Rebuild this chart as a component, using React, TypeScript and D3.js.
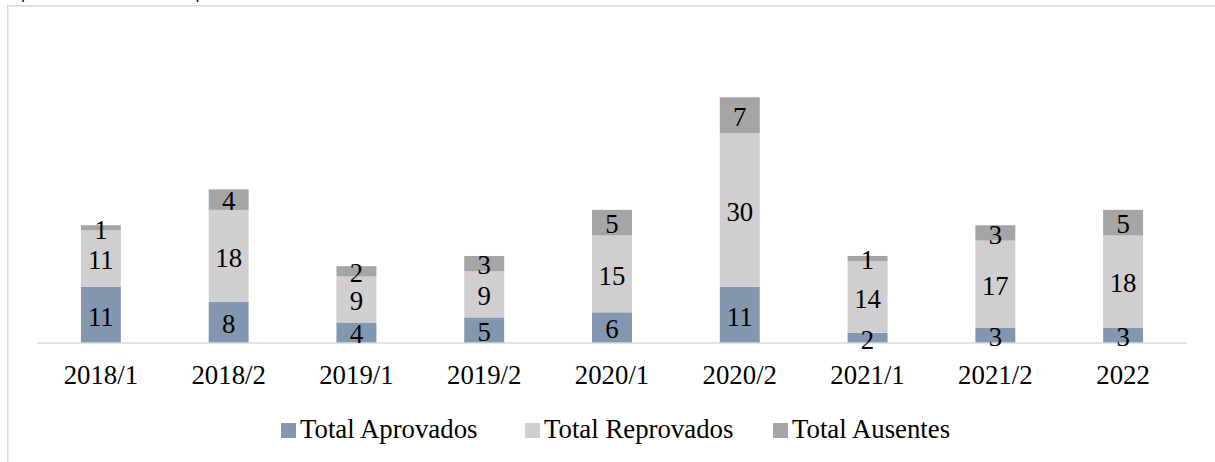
import * as d3 from "d3";

// Data
const categories = [
  "2018/1",
  "2018/2",
  "2019/1",
  "2019/2",
  "2020/1",
  "2020/2",
  "2021/1",
  "2021/2",
  "2022",
];
const aprovados = [11, 8, 4, 5, 6, 11, 2, 3, 3];
const reprovados = [11, 18, 9, 9, 15, 30, 14, 17, 18];
const ausentes = [1, 4, 2, 3, 5, 7, 1, 3, 5];

const seriesNames = ["Total Aprovados", "Total Reprovados", "Total Ausentes"];
const seriesKeys = ["aprovados", "reprovados", "ausentes"];
const colors = ["#8497B0", "#D0CECE", "#A5A5A5"];

const W = 1215;
const H = 462;
const FS = 26.8;
const serifStyle = {
  fontFamily: '"Times New Roman", "Liberation Serif", Tinos, serif',
};

export default function App() {
  const rows = categories.map((c, i) => ({
    cat: c,
    aprovados: aprovados[i],
    reprovados: reprovados[i],
    ausentes: ausentes[i],
  }));

  const stack = d3.stack<(typeof rows)[0]>().keys(seriesKeys);
  const layers = stack(rows as any);

  const x = d3
    .scaleBand<string>()
    .domain(categories)
    .range([37, 1187])
    .paddingInner(0.6875)
    .paddingOuter(0.34375);

  const y = d3.scaleLinear().domain([0, 50]).range([343, 87]);

  // legend layout
  const legendX = [281, 525, 773];

  return (
    <svg
      width={W}
      height={H}
      style={{ position: "absolute", left: 0, top: 0, background: "#fff" }}
    >
      {/* caption above the chart, cut off by the crop as in the source */}
      <text
        x={0}
        y={-1}
        style={{ fontFamily: '"Liberation Sans", Arial, sans-serif' }}
        fontSize={16}
        fill="#000"
      >
        os período de 2018 a 2022 por semestre
      </text>

      {/* chart frame */}
      <rect
        x={7.75}
        y={5.75}
        width={W + 20}
        height={H + 20}
        fill="none"
        stroke="#D9D9D9"
        strokeWidth={1.5}
      />

      {/* stacked bars */}
      {layers.map((layer, li) => (
        <g key={layer.key} fill={colors[li]}>
          {layer.map((d, i) => (
            <rect
              key={i}
              x={x(categories[i])}
              y={y(d[1])}
              width={x.bandwidth()}
              height={y(d[0]) - y(d[1])}
            />
          ))}
        </g>
      ))}

      {/* axis line */}
      <line
        x1={x.range()[0]}
        x2={x.range()[1]}
        y1={y(0)}
        y2={y(0)}
        stroke="#D9D9D9"
        strokeWidth={1.5}
      />

      {/* data labels */}
      {layers.map((layer) =>
        layer.map((d, i) => (
          <text
            key={layer.key + i}
            x={(x(categories[i]) ?? 0) + x.bandwidth() / 2}
            y={(y(d[0]) + y(d[1])) / 2}
            dy="0.4em"
            textAnchor="middle"
            style={serifStyle}
            fontSize={FS}
            fill="#000"
          >
            {d[1] - d[0]}
          </text>
        )),
      )}

      {/* category labels */}
      {categories.map((c) => (
        <text
          key={c}
          x={(x(c) ?? 0) + x.bandwidth() / 2}
          y={384}
          textAnchor="middle"
          style={serifStyle}
          fontSize={FS}
          fill="#000"
        >
          {c}
        </text>
      ))}

      {/* legend */}
      {seriesNames.map((name, i) => (
        <g key={name} transform={`translate(${legendX[i]},0)`}>
          <rect x={0} y={423} width={15} height={15} fill={colors[i]} />
          <text x={19} y={438} style={serifStyle} fontSize={FS} fill="#000">
            {name}
          </text>
        </g>
      ))}
    </svg>
  );
}
